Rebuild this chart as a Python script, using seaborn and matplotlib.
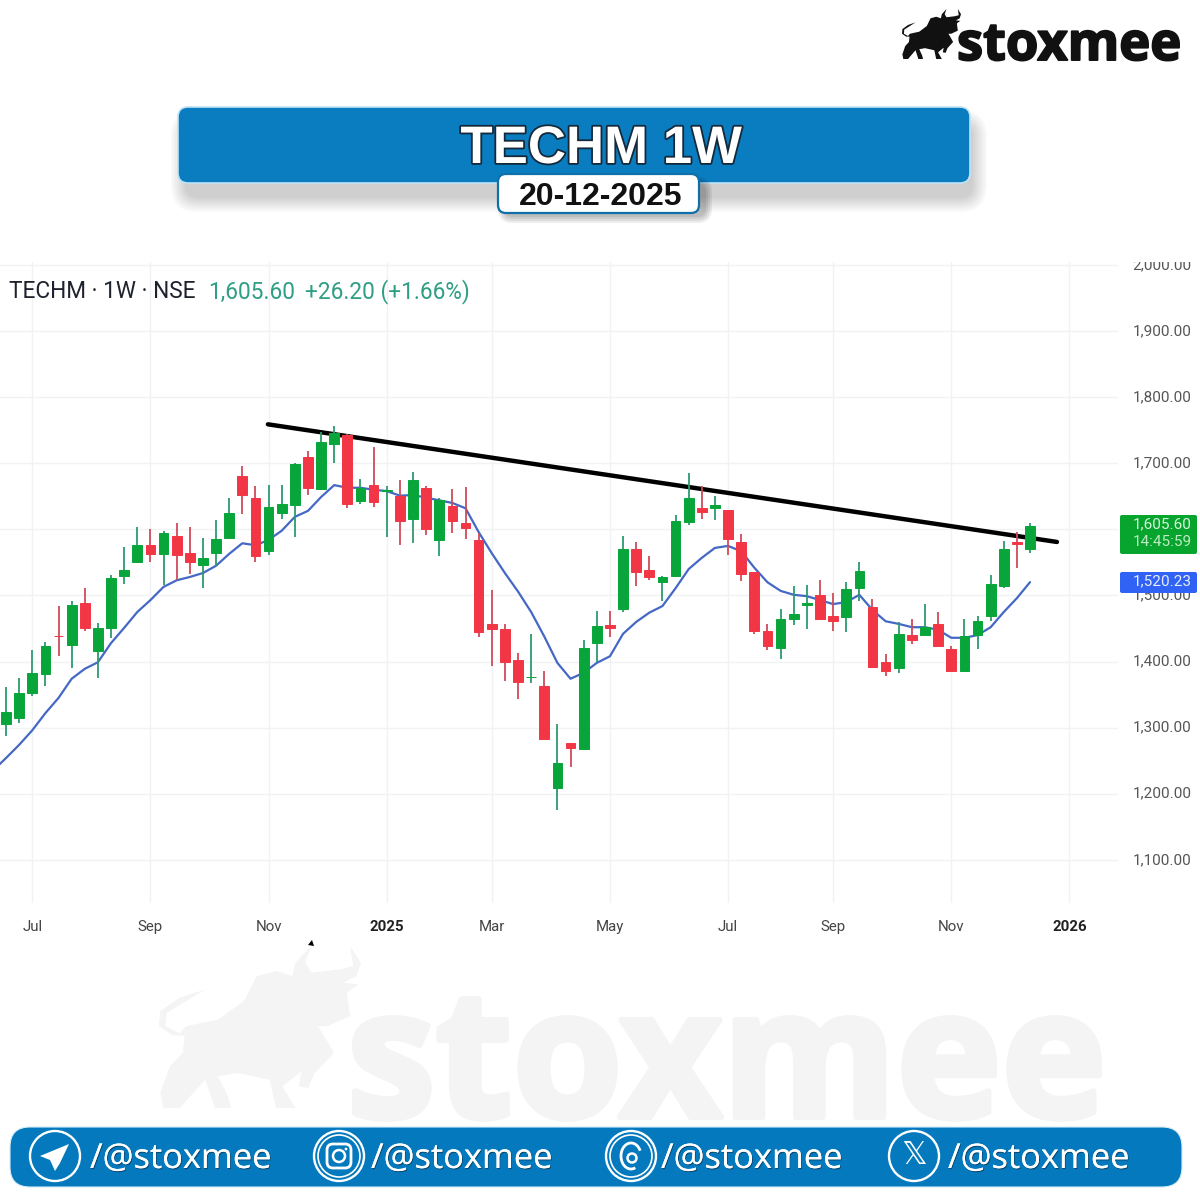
import pandas as pd
import seaborn as sns
import matplotlib
matplotlib.use("Agg")
import matplotlib.pyplot as plt
import matplotlib.patheffects as pe
from matplotlib.patches import FancyBboxPatch, Circle, Polygon, Arc, Rectangle
from matplotlib.transforms import ScaledTranslation

# weekly candles, left to right
opens = [1306, 1315, 1352, 1381, 1439, 1425, 1489, 1416, 1451, 1529, 1550, 1576, 1563, 1590, 1565, 1546,
         1565, 1587, 1681, 1647, 1568, 1625, 1637, 1710, 1661, 1729, 1743, 1643, 1667, 1658, 1651, 1616,
         1662, 1584, 1635, 1609, 1584, 1457, 1450, 1402, 1376, 1363, 1209, 1277, 1267, 1428, 1456, 1479,
         1571, 1538, 1520, 1529, 1611, 1633, 1633, 1630, 1581, 1535, 1446, 1420, 1465, 1485, 1500, 1469,
         1467, 1512, 1483, 1400, 1390, 1440, 1440, 1457, 1419, 1386, 1440, 1469, 1515, 1581, 1570]
highs = [1362, 1375, 1418, 1430, 1484, 1491, 1511, 1459, 1531, 1573, 1604, 1600, 1598, 1610, 1604, 1587,
         1614, 1648, 1696, 1665, 1667, 1667, 1701, 1718, 1747, 1756, 1744, 1677, 1724, 1666, 1675, 1687,
         1666, 1647, 1661, 1664, 1594, 1508, 1457, 1413, 1442, 1386, 1305, 1277, 1433, 1476, 1476, 1590,
         1581, 1560, 1529, 1622, 1685, 1666, 1650, 1630, 1593, 1536, 1457, 1480, 1514, 1516, 1524, 1504,
         1520, 1550, 1495, 1412, 1460, 1464, 1487, 1475, 1423, 1464, 1469, 1531, 1583, 1596, 1609]
lows = [1288, 1307, 1348, 1363, 1408, 1391, 1447, 1375, 1435, 1518, 1550, 1550, 1516, 1523, 1532, 1511,
        1544, 1587, 1624, 1550, 1562, 1616, 1588, 1652, 1660, 1701, 1633, 1639, 1634, 1588, 1576, 1580,
        1591, 1560, 1594, 1585, 1437, 1394, 1370, 1344, 1367, 1283, 1175, 1241, 1267, 1399, 1437, 1475,
        1515, 1524, 1491, 1528, 1606, 1616, 1614, 1562, 1522, 1442, 1418, 1404, 1455, 1449, 1464, 1447,
        1444, 1491, 1390, 1378, 1383, 1426, 1440, 1423, 1386, 1385, 1419, 1462, 1512, 1541, 1565]
closes = [1323, 1352, 1382, 1424, 1438, 1485, 1451, 1451, 1527, 1539, 1576, 1563, 1595, 1562, 1550, 1557,
          1586, 1625, 1652, 1559, 1634, 1639, 1699, 1663, 1732, 1746, 1638, 1663, 1641, 1660, 1613, 1675,
          1600, 1644, 1612, 1602, 1445, 1449, 1399, 1369, 1377, 1283, 1246, 1269, 1421, 1454, 1451, 1571,
          1536, 1528, 1528, 1612, 1648, 1627, 1637, 1585, 1532, 1446, 1423, 1464, 1472, 1489, 1465, 1462,
          1510, 1537, 1392, 1386, 1442, 1432, 1453, 1424, 1386, 1438, 1461, 1517, 1571, 1578, 1605.6]
# moving average, starts one week before the first visible candle
ma_values = [1235, 1254, 1274, 1296, 1322, 1345, 1374, 1389, 1399, 1428, 1451, 1475, 1493, 1513, 1523, 1528,
             1534, 1545, 1563, 1579, 1576, 1584, 1598, 1619, 1628, 1649, 1667, 1663, 1663, 1660, 1658, 1651,
             1652, 1648, 1644, 1640, 1632, 1596, 1564, 1534, 1506, 1475, 1438, 1398, 1374, 1383, 1398, 1408,
             1442, 1460, 1474, 1484, 1511, 1540, 1557, 1572, 1575, 1567, 1542, 1520, 1507, 1501, 1499, 1493,
             1487, 1490, 1501, 1478, 1461, 1457, 1452, 1452, 1448, 1436, 1436, 1440, 1452, 1475, 1496, 1520.23]
trend_x = [19.95, 80.05]
trend_y = [1759, 1581]

month_pos = [2, 11, 20, 29, 37, 46, 55, 63, 72, 81]
month_labels = ["Jul", "Sep", "Nov", "2025", "Mar", "May", "Jul", "Sep", "Nov", "2026"]
price_ticks = [1100, 1200, 1300, 1400, 1500, 1600, 1700, 1800, 1900, 2000]
price_labels = ["1,100.00", "1,200.00", "1,300.00", "1,400.00", "1,500.00", "",
                "1,700.00", "1,800.00", "1,900.00", "2,000.00"]

GREEN = "#08A63A"
RED = "#F23645"
BLUE = "#0A7CC0"

df = pd.DataFrame({"week": range(len(opens)), "open": opens, "high": highs, "low": lows, "close": closes})
df["up"] = df["close"] >= df["open"]
ma_df = pd.DataFrame({"week": range(-1, len(ma_values) - 1), "ma": ma_values})

sns.set_theme(style="whitegrid", rc={"grid.color": "#F1F2F4", "grid.linewidth": 1.0})
plt.rcParams["font.family"] = ["Roboto", "DejaVu Sans"]

fig = plt.figure(figsize=(12, 12), dpi=100, facecolor="white")
ax = fig.add_axes([0, 1 - 903 / 1200, 1118 / 1200, (903 - 262) / 1200])
ax.set_facecolor("white")

sns.lineplot(data=ma_df, x="week", y="ma", ax=ax, color="#4468C4", linewidth=1.6, zorder=2)
ax.plot(trend_x, trend_y, color="black", linewidth=3.2, solid_capstyle="round", zorder=3)

for up, group in df.groupby("up"):
    ax.vlines(group["week"], group["low"], group["high"], color="#2B9A6E" if up else "#D04B5A",
              linewidth=1.3, zorder=4)
    body_low = group[["open", "close"]].min(axis=1)
    body_high = group[["open", "close"]].max(axis=1)
    ax.bar(group["week"], body_high - body_low, bottom=body_low, width=0.74, color=GREEN if up else RED,
           edgecolor=GREEN if up else RED, linewidth=0.7, zorder=5)

ax.set_xlim(-0.457, 84.7)
ax.set_ylim(1031.7 + 3, 2004.6)
ax.set_xticks(month_pos)
ax.set_xticklabels(month_labels)
ax.yaxis.tick_right()
ax.set_yticks(price_ticks)
ax.set_yticklabels(price_labels)
ax.tick_params(axis="y", length=0, pad=10.5, labelsize=11, labelcolor="#555555")
ax.tick_params(axis="x", length=0, pad=12.5, labelsize=10.8, labelcolor="#444444")
for lab in ax.get_xticklabels():
    if lab.get_text() in ("2025", "2026"):
        lab.set_fontweight("bold")
        lab.set_color("#222222")
# labels sit a little above their grid line
for lab in ax.get_yticklabels():
    lab.set_transform(lab.get_transform() + ScaledTranslation(0, 1.5 / 100, fig.dpi_scale_trans))
ax.set_xlabel("")
ax.set_ylabel("")
ax.grid(True)
sns.despine(ax=ax, left=True, bottom=True, right=True, top=True)

# page furniture, drawn in pixel coordinates
over = fig.add_axes([0, 0, 1, 1], zorder=5)
over.set_xlim(0, 1200)
over.set_ylim(1200, 0)
over.axis("off")
over.patch.set_alpha(0)


def box(x0, y0, x1, y1, r, **kw):
    p = FancyBboxPatch((x0, y0), x1 - x0, y1 - y0, boxstyle=f"round,pad=0,rounding_size={r}", **kw)
    over.add_patch(p)
    return p


def shadow(x0, y0, x1, y1, r, spread, alpha):
    for s in range(spread, 0, -2):
        box(x0 - s, y0 - s, x1 + s, y1 + s, r + s, facecolor="black", edgecolor="none", alpha=alpha)


bull = [(100, 180), (70, 215), (40, 250), (38, 290), (60, 312), (70, 290), (120, 270), (160, 215), (180, 140),
        (210, 125), (235, 140), (240, 100), (265, 50), (255, 100), (265, 130), (310, 120), (330, 110), (325, 50),
        (342, 100), (335, 140), (315, 160), (338, 165), (320, 190), (325, 260), (290, 290), (275, 290), (285, 320),
        (300, 370), (270, 430), (260, 475), (245, 470), (250, 425), (220, 470), (240, 535), (210, 535), (200, 450),
        (150, 430), (120, 440), (135, 500), (140, 535), (115, 535), (100, 450), (60, 535), (35, 535), (30, 490),
        (45, 410), (65, 370), (68, 318), (50, 318), (28, 290), (30, 245), (60, 205)]


def draw_bull(x0, y0, x1, y1, color):
    pts = [(x0 + (u - 28) / 314 * (x1 - x0), y0 + (v - 50) / 485 * (y1 - y0)) for u, v in bull]
    over.add_patch(Polygon(pts, closed=True, facecolor=color, edgecolor="none"))


# top right logo
draw_bull(902, 9, 961, 59, "#111111")
over.text(957, 60, "stoxmee", family=["Open Sans", "DejaVu Sans"], fontweight="bold", fontsize=37.8, color="#111111",
          ha="left", va="baseline", path_effects=[pe.withStroke(linewidth=1.4, foreground="#111111")])

# header
shadow(186, 125, 972, 197, 12, 15, 0.025)
box(178, 107, 970, 183, 10, facecolor=BLUE, edgecolor="#BFE3F5", linewidth=1.2)
over.text(601, 163, "TECHM 1W", family=["Liberation Sans"], fontweight="bold", fontsize=38, color="white",
          ha="center", va="baseline", path_effects=[pe.withStroke(linewidth=2.6, foreground="#14293A")])
shadow(505, 184, 705, 216, 8, 7, 0.07)
box(498, 174, 699, 213, 8, facecolor="white", edgecolor="#0F6FA8", linewidth=1.6)
over.text(601, 205, "20-12-2025", family=["Liberation Sans"], fontweight="bold", fontsize=23, color="#111111",
          ha="center", va="baseline")

# chart legend
over.text(9, 298.5, "TECHM · 1W · NSE", fontsize=16.3, color="#1E222D", ha="left", va="baseline")
over.text(208, 298.5, "1,605.60", fontsize=16.3, color="#2E9E84", ha="left", va="baseline")
over.text(305, 298.5, "+26.20 (+1.66%)", fontsize=16.3, color="#2E9E84", ha="left", va="baseline")

# hides the top of the last axis label, the chart pane ends here
over.add_patch(Rectangle((1119, 245), 81, 16.5, facecolor="white", edgecolor="none"))

# price tags
box(1120, 515, 1197, 554, 2, facecolor="#07A52D", edgecolor="none")
over.text(1192, 524, "1,605.60", fontsize=11, color="#D8F5DE", ha="right", va="center")
over.text(1192, 542, "14:45:59", fontsize=11, color="#BDEBC6", ha="right", va="center")
box(1120, 572, 1197, 593, 2, facecolor="#2F62F5", edgecolor="none")
over.text(1192, 581.5, "1,520.23", fontsize=11, color="#E8EEFF", ha="right", va="center")

# watermark
draw_bull(159, 946, 361, 1108, "#F4F4F4")
over.text(347, 1117, "stoxmee", family=["Open Sans", "DejaVu Sans"], fontweight="bold", fontsize=128, color="#F4F4F4",
          ha="left", va="baseline", path_effects=[pe.withStroke(linewidth=4.5, foreground="#F4F4F4")])
over.add_patch(Polygon([(308, 945), (312, 940), (314, 946)], closed=True, facecolor="black", edgecolor="none"))

# footer bar
box(10, 1127, 1182, 1187, 20, facecolor="#0479BD", edgecolor="#D5ECF8", linewidth=0.8)
handle_x = [90, 371, 661, 948]
for x in handle_x:
    over.text(x, 1168, "/@stoxmee", family=["Open Sans", "DejaVu Sans"], fontsize=24.8, color="white",
              ha="left", va="baseline", path_effects=[pe.withSimplePatchShadow(offset=(0.6, -0.8), shadow_rgbFace="#0B3A5A", alpha=0.8), pe.Normal()])

icon_x = [55, 339, 631, 914]
for x in icon_x:
    over.add_patch(Circle((x, 1156), 25, facecolor="none", edgecolor="white", linewidth=1.7))
# telegram
over.add_patch(Polygon([(69, 1144), (40, 1156), (50, 1160), (55, 1171), (60, 1163)], closed=True,
                       facecolor="white", edgecolor="none"))
# instagram
over.add_patch(Circle((339, 1156), 21, facecolor="none", edgecolor="white", linewidth=1.2))
box(327, 1144, 351, 1168, 6, facecolor="none", edgecolor="white", linewidth=2)
over.add_patch(Circle((339, 1156), 6, facecolor="none", edgecolor="white", linewidth=1.8))
over.add_patch(Circle((346, 1149), 1.4, facecolor="white", edgecolor="none"))
# threads
over.add_patch(Circle((631, 1156), 21, facecolor="none", edgecolor="white", linewidth=1.2))
over.add_patch(Arc((631, 1156), 20, 26, theta1=70, theta2=330, edgecolor="white", linewidth=2))
over.add_patch(Circle((632, 1158), 4.5, facecolor="none", edgecolor="white", linewidth=1.8))
# x
over.text(914, 1156, "\U0001D54F", family=["DejaVu Sans"], fontsize=23, color="white", ha="center", va="center")

fig.savefig("out.png", dpi=100, facecolor="white")
